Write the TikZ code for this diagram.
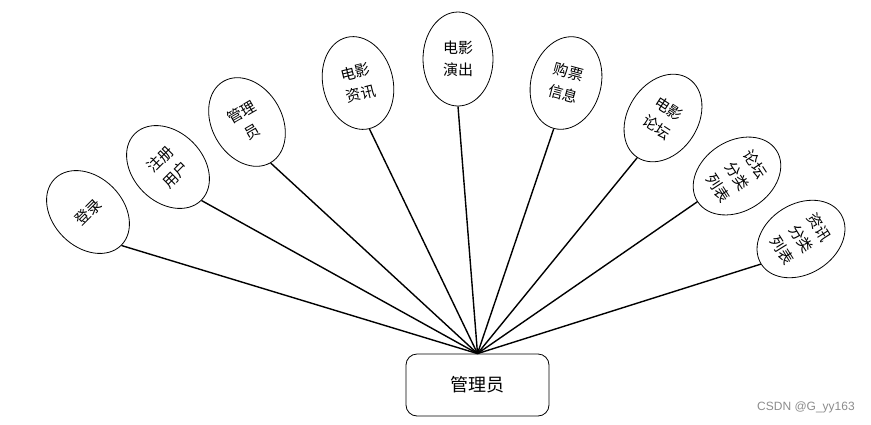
\documentclass[tikz,border=0pt]{standalone}
\usepackage{fontspec}
\usepackage{tikz}
\usetikzlibrary{shapes.geometric}
\newfontfamily\cjk{Noto Sans CJK SC}
\newfontfamily\creditfont{Liberation Sans}
\tikzstyle{item} = [ellipse, draw=black, line width=0.8pt, minimum width=70pt, minimum height=94pt, inner sep=0pt, align=center, font=\cjk\fontsize{15}{22}\selectfont]
\tikzstyle{role} = [rectangle, rounded corners=11pt, draw=black, line width=0.8pt, minimum width=143pt, minimum height=62pt, font=\cjk\fontsize{18}{20}\selectfont]
\tikzstyle{link} = [line width=1.4pt]

\begin{document}
\begin{tikzpicture}[x=1pt,y=-1pt]
    \useasboundingbox (0,0) rectangle (871,424);
    \node (admin) [role] at (477.5,385) {管理员};
    \node (login) [item, rotate=45] at (88,212) {登录};
    \node (register) [item, rotate=45] at (168,167) {注册\\用户};
    \node (manager) [item, rotate=30] at (247,122) {管理\\员};
    \node (news) [item, rotate=14] at (358,83) {电影\\资讯};
    \node (shows) [item] at (458,59) {电影\\演出};
    \node (tickets) [item, rotate=-15] at (566,83) {购票\\信息};
    \node (forum) [item, rotate=-33] at (663,118) {电影\\论坛};
    \node (forumcat) [item, rotate=-57] at (737,176) {论坛\\分类\\列表};
    \node (newscat) [item, rotate=-58] at (801,239) {资讯\\分类\\列表};
    \draw [link] (admin.north) -- (login.south);
    \draw [link] (admin.north) -- (register.south);
    \draw [link] (admin.north) -- (manager.south);
    \draw [link] (admin.north) -- (news.south);
    \draw [link] (admin.north) -- (shows.south);
    \draw [link] (admin.north) -- (tickets.south);
    \draw [link] (admin.north) -- (forum.south);
    \draw [link] (admin.north) -- (forumcat.south);
    \draw [link] (admin.north) -- (newscat.south);
    \node (credit) [font=\creditfont\fontsize{12}{14}\selectfont, text=black!45] at (806,407) {CSDN @G\_yy163};
\end{tikzpicture}
\end{document}
